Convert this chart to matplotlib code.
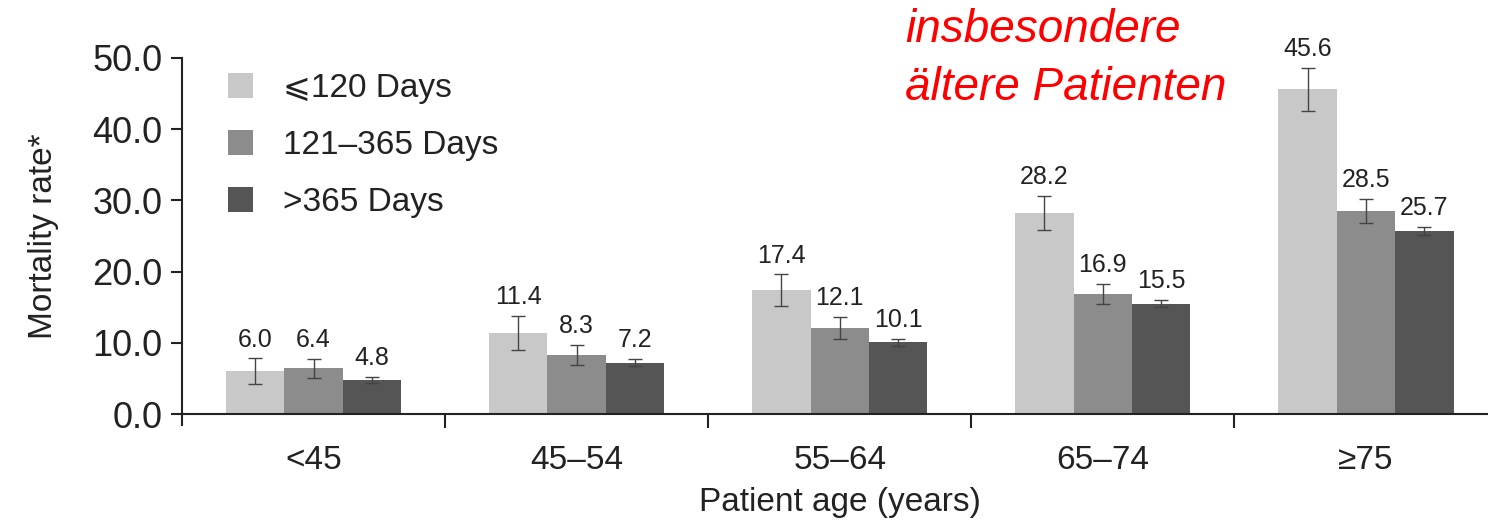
import matplotlib
matplotlib.use("Agg")
import matplotlib.pyplot as plt
import numpy as np

plt.rcParams['font.family'] = ['Liberation Sans', 'DejaVu Sans']

# mortality by age group and time since diagnosis
age_groups = ['<45', '45–54', '55–64', '65–74', '≥75']
series_names = ['⩽120 Days', '121–365 Days', '>365 Days']
short_term = [6.0, 11.4, 17.4, 28.2, 45.6]
mid_term = [6.4, 8.3, 12.1, 16.9, 28.5]
long_term = [4.8, 7.2, 10.1, 15.5, 25.7]
short_err = [1.8, 2.4, 2.2, 2.4, 3.0]
mid_err = [1.3, 1.4, 1.5, 1.4, 1.7]
long_err = [0.45, 0.5, 0.5, 0.5, 0.6]
colors = ['#c8c8c8', '#8c8c8c', '#555555']

fig = plt.figure(figsize=(14.88, 5.26), dpi=100)
ax = fig.add_axes([182 / 1488, 112 / 526, 1315.5 / 1488, 356 / 526])

x = np.arange(len(age_groups))
w = 0.222
values = [short_term, mid_term, long_term]
errors = [short_err, mid_err, long_err]
for i in range(3):
    pos = x + (i - 1) * w
    ax.bar(pos, values[i], w, color=colors[i], label=series_names[i])
    ax.errorbar(pos, values[i], yerr=errors[i], fmt='none', ecolor='#444444',
                elinewidth=1.0, capsize=5, capthick=1.0)
    for px, v, e in zip(pos, values[i], errors[i]):
        ax.annotate(f'{v:.1f}', (px, v + e), xytext=(0, 5), textcoords='offset points',
                    ha='center', va='bottom', fontsize=18, color='#222222')

ax.set_xlim(-0.5, len(age_groups) - 0.5)
ax.set_ylim(0, 50)
ax.set_yticks(np.arange(0, 51, 10))
ax.set_yticklabels([f'{t:.1f}' for t in np.arange(0, 51, 10)], fontsize=26, color='#222222')

# group separators as major ticks, names as minor labels
ax.set_xticks(np.arange(0.5, len(age_groups) - 0.5, 1))
ax.set_xticklabels([])
ax.set_xticks(x, minor=True)
ax.set_xticklabels(age_groups, minor=True, fontsize=24, color='#222222')
ax.tick_params(axis='x', which='major', direction='out', length=10, width=1.5, color='#222222')
ax.tick_params(axis='x', which='minor', length=0, pad=22)
ax.tick_params(axis='y', direction='out', length=8, width=1.5, color='#222222', pad=6)

for s in ['top', 'right']:
    ax.spines[s].set_visible(False)
for s in ['left', 'bottom']:
    ax.spines[s].set_linewidth(1.5)
    ax.spines[s].set_color('#222222')
ax.spines['left'].set_bounds(-1.5, 50)

ax.set_xlabel('Patient age (years)', fontsize=24, color='#222222', labelpad=8)
ax.set_ylabel('Mortality rate*', fontsize=24, color='#222222', labelpad=24)

leg = ax.legend(loc='upper left', bbox_to_anchor=(0.025, 0.995), frameon=False,
                fontsize=24, handlelength=0.75, handleheight=0.75,
                handletextpad=0.9, labelspacing=0.78, borderaxespad=0)
for t in leg.get_texts():
    t.set_color('#222222')

fig.text(905 / 1488, 1 - 8 / 526, 'insbesondere\nältere Patienten', color='#ff0000',
         fontsize=33, style='italic', ha='left', va='top', linespacing=1.4)

fig.savefig('out.png', dpi=100)
